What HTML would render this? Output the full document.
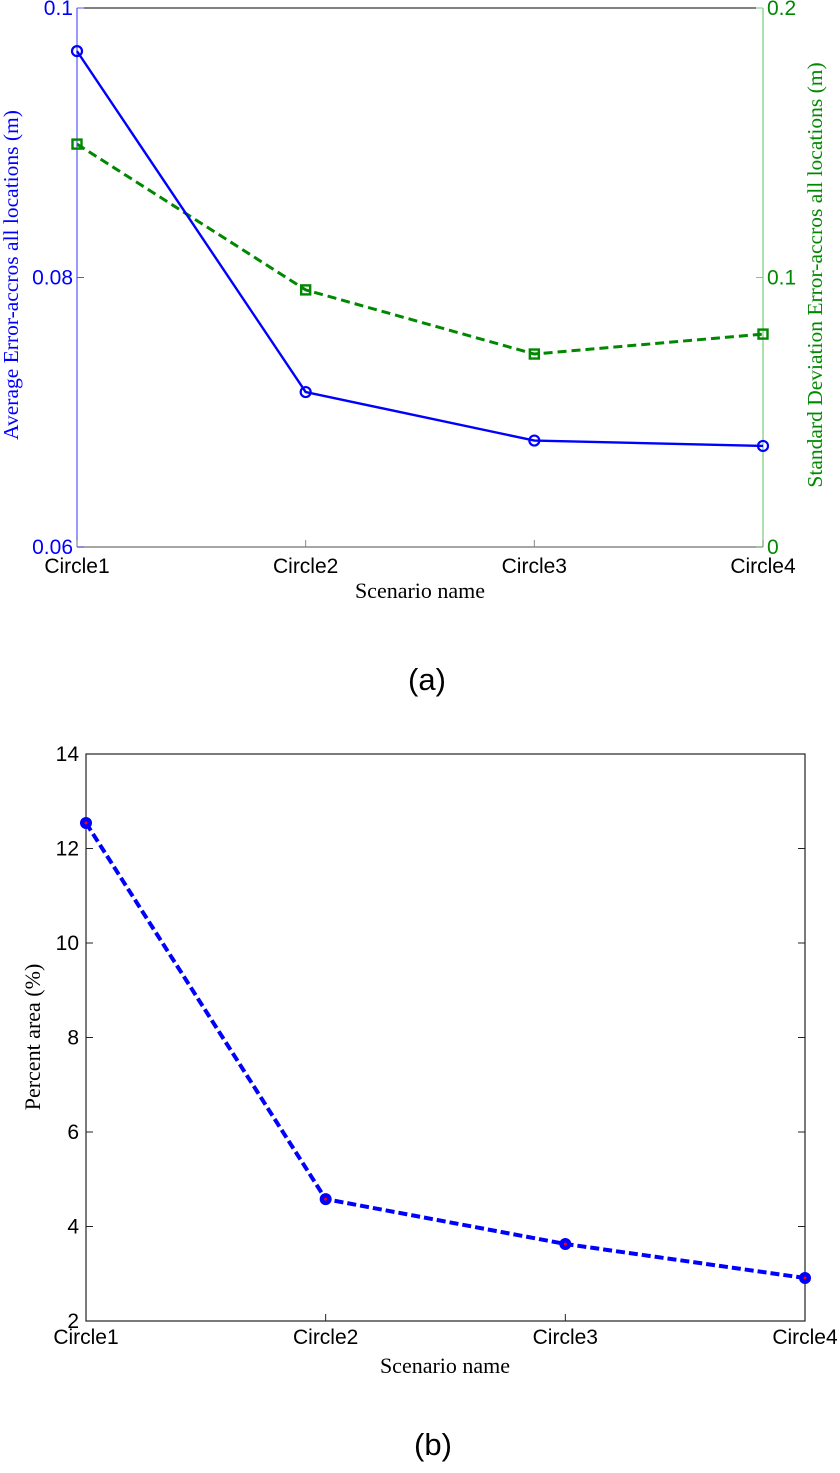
<!DOCTYPE html>
<html><head><meta charset="utf-8"><style>
html,body{margin:0;padding:0;background:#fff;}
svg{display:block;}
text{font-family:"Liberation Sans",Arial,sans-serif;}
.serif{font-family:"Liberation Serif","Times New Roman",serif;}
</style></head><body>
<svg id="chart" width="840" height="1473" viewBox="0 0 840 1473"></svg>
<script>
const categories = ["Circle1","Circle2","Circle3","Circle4"];
const avgError = [0.0968, 0.0715, 0.0679, 0.0675];
const stdError = [0.1495, 0.0954, 0.0716, 0.079];
const leftTicksA = [0.06, 0.08, 0.1];
const rightTicksA = [0, 0.1, 0.2];
const percentArea = [12.54, 4.58, 3.63, 2.91];
const ticksB = [2, 4, 6, 8, 10, 12, 14];

const NS = "http://www.w3.org/2000/svg";
const svg = document.getElementById("chart");
function mk(tag, attrs, parent, txt){
  const e = document.createElementNS(NS, tag);
  for (const k in attrs) e.setAttribute(k, attrs[k]);
  if (txt !== undefined) e.textContent = txt;
  (parent || svg).appendChild(e);
  return e;
}

// ---------- Chart A ----------
const A = {l:77, r:763, t:8, b:547};
const gA = mk("g", {});


const xA = i => A.l + i*(A.r-A.l)/(categories.length-1);
const yAL = v => A.b - (v-0.06)/(0.1-0.06)*(A.b-A.t);
const yAR = v => A.b - (v-0)/(0.2-0)*(A.b-A.t);

let e;
e = mk("line",{x1:A.l,y1:A.t,x2:A.r,y2:A.t,stroke:"#000","stroke-width":1},gA);
 
e = mk("line",{x1:A.l,y1:A.b,x2:A.r,y2:A.b,stroke:"#888","stroke-width":1.5},gA);
 
e = mk("line",{x1:A.l,y1:A.t,x2:A.l,y2:A.b,stroke:"#55f","stroke-width":1.2},gA);
 
e = mk("line",{x1:A.r,y1:A.t,x2:A.r,y2:A.b,stroke:"#7c7","stroke-width":1.2},gA);
 

leftTicksA.forEach(v=>{
  const y = yAL(v);
  e = mk("line",{x1:A.l,y1:y,x2:A.l+7,y2:y,stroke:"#55f"},gA);
   
  e = mk("text",{x:A.l-4,y:y+7,"text-anchor":"end","font-size":21,fill:"#00f"},gA,String(v));
   
});
rightTicksA.forEach(v=>{
  const y = yAR(v);
  e = mk("line",{x1:A.r-7,y1:y,x2:A.r,y2:y,stroke:"#7c7"},gA);
   
  e = mk("text",{x:A.r+4,y:y+7,"font-size":21,fill:"#080"},gA,String(v));
   
});
categories.forEach((c,i)=>{
  const x = xA(i);
  e = mk("line",{x1:x,y1:A.b,x2:x,y2:A.b-7,stroke:"#888"},gA);
   
  e = mk("text",{x:x,y:A.b+26,"text-anchor":"middle","font-size":21,fill:"#000"},gA,c);
   
});
e = mk("text",{x:420,y:598,"text-anchor":"middle","font-size":22,class:"serif",fill:"#000"},gA,"Scenario name");
 
e = mk("text",{x:0,y:0,"text-anchor":"middle","font-size":21.5,class:"serif",fill:"#00f",transform:"translate(18,275) rotate(-90)"},gA,"Average Error-accros all locations (m)");
 
e = mk("text",{x:0,y:0,"text-anchor":"middle","font-size":21.5,class:"serif",fill:"#080",transform:"translate(822,275) rotate(-90)"},gA,"Standard Deviation Error-accros all locations (m)");
 

e = mk("polyline",{points:stdError.map((v,i)=>xA(i)+","+yAR(v)).join(" "),fill:"none",stroke:"#080","stroke-width":3,"stroke-dasharray":"9,5"},gA);
 
stdError.forEach((v,i)=>{
  e = mk("rect",{x:xA(i)-4.5,y:yAR(v)-4.5,width:9,height:9,fill:"none",stroke:"#080","stroke-width":2.4},gA);
   
});
e = mk("polyline",{points:avgError.map((v,i)=>xA(i)+","+yAL(v)).join(" "),fill:"none",stroke:"#00f","stroke-width":2.4},gA);
 
avgError.forEach((v,i)=>{
  e = mk("circle",{cx:xA(i),cy:yAL(v),r:5,fill:"none",stroke:"#00f","stroke-width":2.2},gA);
   
});
e = mk("text",{x:427,y:690,"text-anchor":"middle","font-size":31,fill:"#000"},gA,"(a)");
 

// ---------- Chart B ----------
const B = {l:86, r:805, t:754, b:1321};
const gB = mk("g", {});


const xB = i => B.l + i*(B.r-B.l)/(categories.length-1);
const yB = v => B.b - (v-2)/(14-2)*(B.b-B.t);

e = mk("rect",{x:B.l,y:B.t,width:B.r-B.l,height:B.b-B.t,fill:"none",stroke:"#222","stroke-width":1.2},gB);
 
ticksB.forEach(v=>{
  const y = yB(v);
  e = mk("line",{x1:B.l,y1:y,x2:B.l+7,y2:y,stroke:"#222"},gB);
   
  e = mk("line",{x1:B.r-7,y1:y,x2:B.r,y2:y,stroke:"#222"},gB);
   
  e = mk("text",{x:B.l-7,y:y+7,"text-anchor":"end","font-size":21,fill:"#000"},gB,String(v));
   
});
categories.forEach((c,i)=>{
  const x = xB(i);
  e = mk("line",{x1:x,y1:B.b,x2:x,y2:B.b-7,stroke:"#222"},gB);
   
  e = mk("text",{x:x,y:B.b+23,"text-anchor":"middle","font-size":21,fill:"#000"},gB,c);
   
});
e = mk("text",{x:445,y:1373,"text-anchor":"middle","font-size":22,class:"serif",fill:"#000"},gB,"Scenario name");
 
e = mk("text",{x:0,y:0,"text-anchor":"middle","font-size":22,class:"serif",fill:"#000",transform:"translate(40,1037) rotate(-90)"},gB,"Percent area (%)");
 
e = mk("polyline",{points:percentArea.map((v,i)=>xB(i)+","+yB(v)).join(" "),fill:"none",stroke:"#00f","stroke-width":4,"stroke-dasharray":"9,4"},gB);
 
percentArea.forEach((v,i)=>{
  e = mk("circle",{cx:xB(i),cy:yB(v),r:6,fill:"#00f"},gB);
   
  e = mk("circle",{cx:xB(i),cy:yB(v),r:1.5,fill:"#f00"},gB);
   
});
e = mk("text",{x:433,y:1455,"text-anchor":"middle","font-size":31,fill:"#000"},gB,"(b)");
 
</script>
</body></html>
